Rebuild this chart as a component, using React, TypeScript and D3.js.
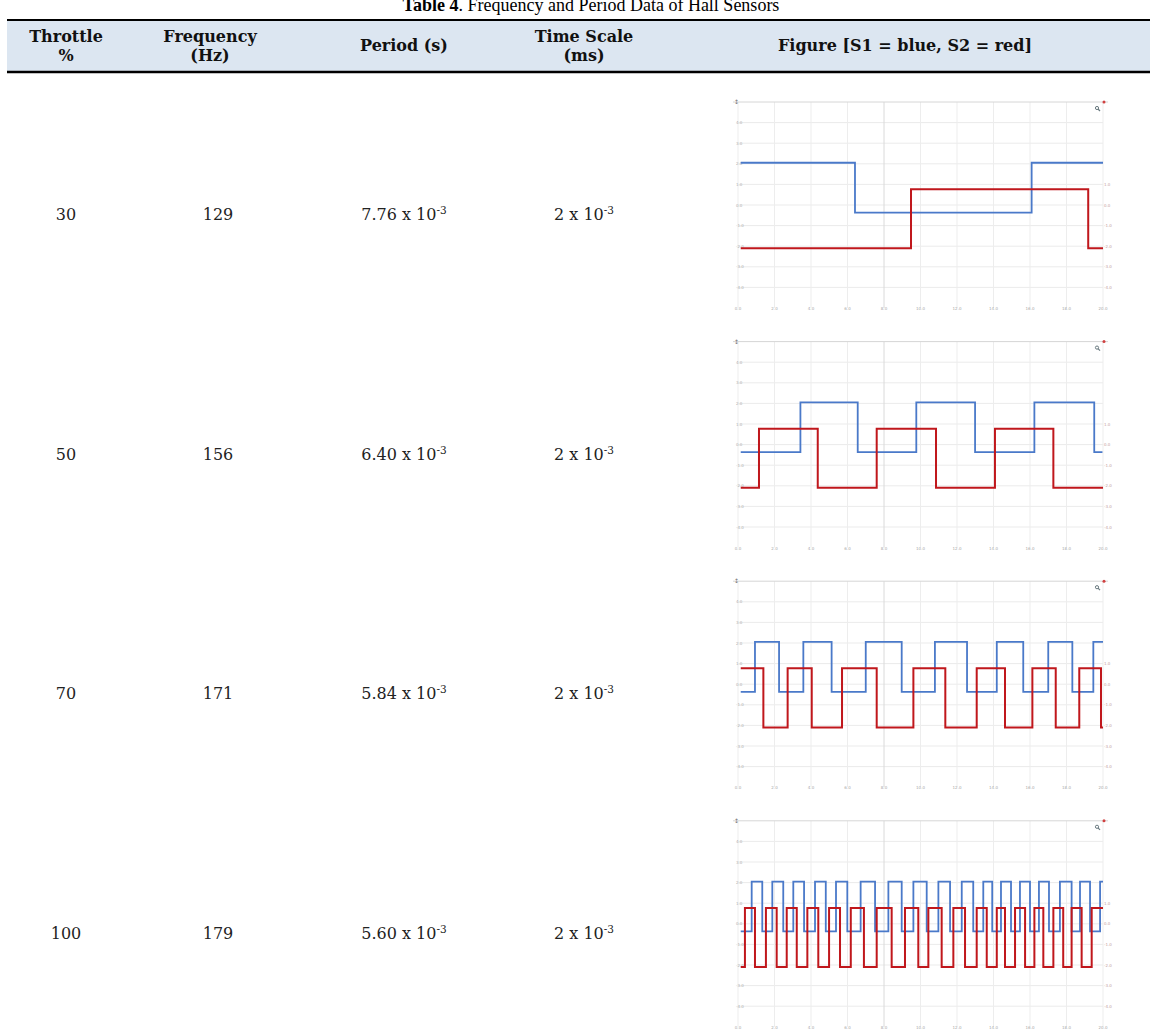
import * as d3 from "d3";

// table values
const THROTTLE = ["30", "50", "70", "100"];
const FREQUENCY = ["129", "156", "171", "179"];
const PERIOD = ["7.76", "6.40", "5.84", "5.60"];
const TIME_SCALE = ["2", "2", "2", "2"];
const EXPONENT = "-3";

// scope traces: edge times in ms (2 ms/div, 10 div), start state 1 = high
const S1_START = [1, 0, 0, 0];
const S1_EDGES = [
  [6.41, 16.09],
  [3.42, 6.56, 9.77, 12.99, 16.24, 19.52],
  [0.93, 2.25, 3.58, 5.13, 7.0, 8.97, 10.79, 12.55, 14.18, 15.63, 17.0, 18.32, 19.47],
  [
    0.75, 1.33, 1.88, 2.48, 3.03, 3.62, 4.22, 4.81, 5.37, 5.99, 6.72, 7.51, 8.24,
    8.97, 9.61, 10.34, 10.98, 11.62, 12.26, 12.89, 13.44, 13.93, 14.41, 14.96,
    15.45, 16.0, 16.49, 17.04, 17.64, 18.28, 18.74, 19.29, 19.84,
  ],
];
const S1_END = [20, 19.97, 20, 20];

const S2_START = [0, 0, 1, 0];
const S2_EDGES = [
  [9.48, 19.19],
  [1.15, 4.37, 7.6, 10.85, 14.08, 17.28],
  [1.39, 2.72, 4.04, 5.7, 7.6, 9.61, 11.36, 13.08, 14.63, 16.13, 17.41, 18.7, 19.89],
  [
    0.38, 0.93, 1.53, 2.12, 2.67, 3.22, 3.8, 4.4, 4.99, 5.59, 6.18, 6.9, 7.6,
    8.42, 9.15, 9.88, 10.43, 11.16, 11.8, 12.44, 13.08, 13.63, 14.18, 14.63,
    15.18, 15.73, 16.24, 16.73, 17.28, 17.82, 18.28, 18.83, 19.38,
  ],
];
const S2_END = [20, 20, 20, 20];

const TRACE_START = 0.15;
const S1_LEVELS = [-0.37, 2.05]; // low, high (V)
const S2_LEVELS = [-2.1, 0.77];

const Y_TICKS = [5, 4, 3, 2, 1, 0, -1, -2, -3, -4, -5];
const Y2_TICKS = [1, 0, -1, -2, -3, -4];
const X_TICKS = [0, 2, 4, 6, 8, 10, 12, 14, 16, 18, 20];

const HEADERS = [
  ["Throttle", "%"],
  ["Frequency", "(Hz)"],
  ["Period (s)"],
  ["Time Scale", "(ms)"],
  ["Figure [S1 = blue, S2 = red]"],
];
const COL_X = [66, 210, 404, 584, 905];

const W = 1159;
const H = 1036;
const PLOT_LEFT = 738;
const PLOT_RIGHT = 1103;
const FIRST_TOP = 102;
const ROW_STEP = 239.6;
const PLOT_H = 206;

function trace(start: number, edges: number[], end: number, levels: number[]) {
  const pts: [number, number][] = [[TRACE_START, levels[start]]];
  let s = start;
  edges.forEach((e) => {
    s = 1 - s;
    pts.push([e, levels[s]]);
  });
  pts.push([end, levels[s]]);
  return pts;
}

function Scope({ i }: { i: number }) {
  const top = FIRST_TOP + i * ROW_STEP;
  const x = d3.scaleLinear().domain([0, 20]).range([PLOT_LEFT, PLOT_RIGHT]);
  const y = d3.scaleLinear().domain([5, -5]).range([top, top + PLOT_H]);
  const line = d3
    .line<[number, number]>()
    .x((d) => x(d[0]))
    .y((d) => y(d[1]))
    .curve(d3.curveStepAfter);

  const s1 = trace(S1_START[i], S1_EDGES[i], S1_END[i], S1_LEVELS);
  const s2 = trace(S2_START[i], S2_EDGES[i], S2_END[i], S2_LEVELS);

  return (
    <g>
      {Y_TICKS.slice(1, 10).map((v) => (
        <line key={"h" + v} x1={PLOT_LEFT} x2={PLOT_RIGHT} y1={y(v)} y2={y(v)} stroke="#ebebeb" strokeWidth={1} />
      ))}
      {X_TICKS.map((t, k) => (
        <line
          key={"v" + t}
          x1={x(t)}
          x2={x(t)}
          y1={top}
          y2={y(-5)}
          stroke={k === 4 ? "#dadada" : "#ededed"}
          strokeWidth={1}
        />
      ))}
      <line x1={PLOT_LEFT - 5} x2={PLOT_RIGHT + 5} y1={top} y2={top} stroke="#d6d6d6" strokeWidth={1} />
      {Y_TICKS.slice(1, 10).map((v) => (
        <text key={"yl" + v} x={PLOT_LEFT - 2} y={y(v) + 1.5} fontSize={4} fill="#b0b0b0" fontFamily="DejaVu Sans">
          {v.toFixed(1)}
        </text>
      ))}
      {Y2_TICKS.map((v) => (
        <text key={"yr" + v} x={PLOT_RIGHT + 1} y={y(v) + 1.5} fontSize={4} fill="#c4a0a0" fontFamily="DejaVu Sans">
          {v.toFixed(1)}
        </text>
      ))}
      {X_TICKS.map((t) => (
        <text key={"xl" + t} x={x(t)} y={y(-5) + 2} fontSize={4} fill="#a8a8a8" textAnchor="middle" fontFamily="DejaVu Sans">
          {t.toFixed(1)}
        </text>
      ))}
      <text x={PLOT_LEFT - 4} y={top + 2} fontSize={6} fill="#777" fontFamily="DejaVu Sans">
        ↕
      </text>
      <circle cx={PLOT_RIGHT + 1} cy={top} r={1.5} fill="#d04040" />
      <circle cx={PLOT_RIGHT - 6} cy={top + 6} r={1.6} fill="none" stroke="#6a7a80" strokeWidth={1} />
      <line x1={PLOT_RIGHT - 5} y1={top + 7} x2={PLOT_RIGHT - 3} y2={top + 9} stroke="#6a7a80" strokeWidth={1.2} />
      <path d={line(s1) ?? ""} fill="none" stroke="#4a79c9" strokeWidth={1.8} />
      <path d={line(s2) ?? ""} fill="none" stroke="#c0171c" strokeWidth={2} />
    </g>
  );
}

export default function App() {
  const bodyFont = "DejaVu Serif";
  return (
    <svg
      width={W}
      height={H}
      viewBox={`0 0 ${W} ${H}`}
      style={{ position: "absolute", left: 0, top: 0, background: "#fff" }}
    >
      <rect x={0} y={0} width={W} height={H} fill="#fff" />
      <text x={591} y={11} textAnchor="middle" fontFamily="Liberation Serif" fontSize={18} fill="#000">
        <tspan fontWeight="bold">Table 4</tspan>
        <tspan>. Frequency and Period Data of Hall Sensors</tspan>
      </text>

      <rect x={7} y={20} width={1143} height={52} fill="#dce6f1" />
      <line x1={7} x2={1150} y1={20} y2={20} stroke="#000" strokeWidth={2} />
      <line x1={7} x2={1150} y1={72} y2={72} stroke="#000" strokeWidth={2.5} />
      {HEADERS.map((lines, c) =>
        lines.map((t, k) => (
          <text
            key={c + "-" + k}
            x={COL_X[c]}
            y={lines.length === 1 ? 51 : 42 + k * 19}
            textAnchor="middle"
            fontFamily={bodyFont}
            fontWeight="bold"
            fontSize={16}
            fill="#111"
          >
            {t}
          </text>
        ))
      )}

      {THROTTLE.map((th, i) => {
        const cy = FIRST_TOP + i * ROW_STEP + 118;
        return (
          <g key={th} fontFamily={bodyFont} fontSize={16} fill="#222">
            <text x={COL_X[0]} y={cy} textAnchor="middle">
              {th}
            </text>
            <text x={COL_X[1] + 8} y={cy} textAnchor="middle">
              {FREQUENCY[i]}
            </text>
            <text x={COL_X[2]} y={cy} textAnchor="middle">
              {PERIOD[i]} x 10
              <tspan fontSize={10.5} dy={-6}>
                {EXPONENT}
              </tspan>
            </text>
            <text x={COL_X[3]} y={cy} textAnchor="middle">
              {TIME_SCALE[i]} x 10
              <tspan fontSize={10.5} dy={-6}>
                {EXPONENT}
              </tspan>
            </text>
            <Scope i={i} />
          </g>
        );
      })}
    </svg>
  );
}
